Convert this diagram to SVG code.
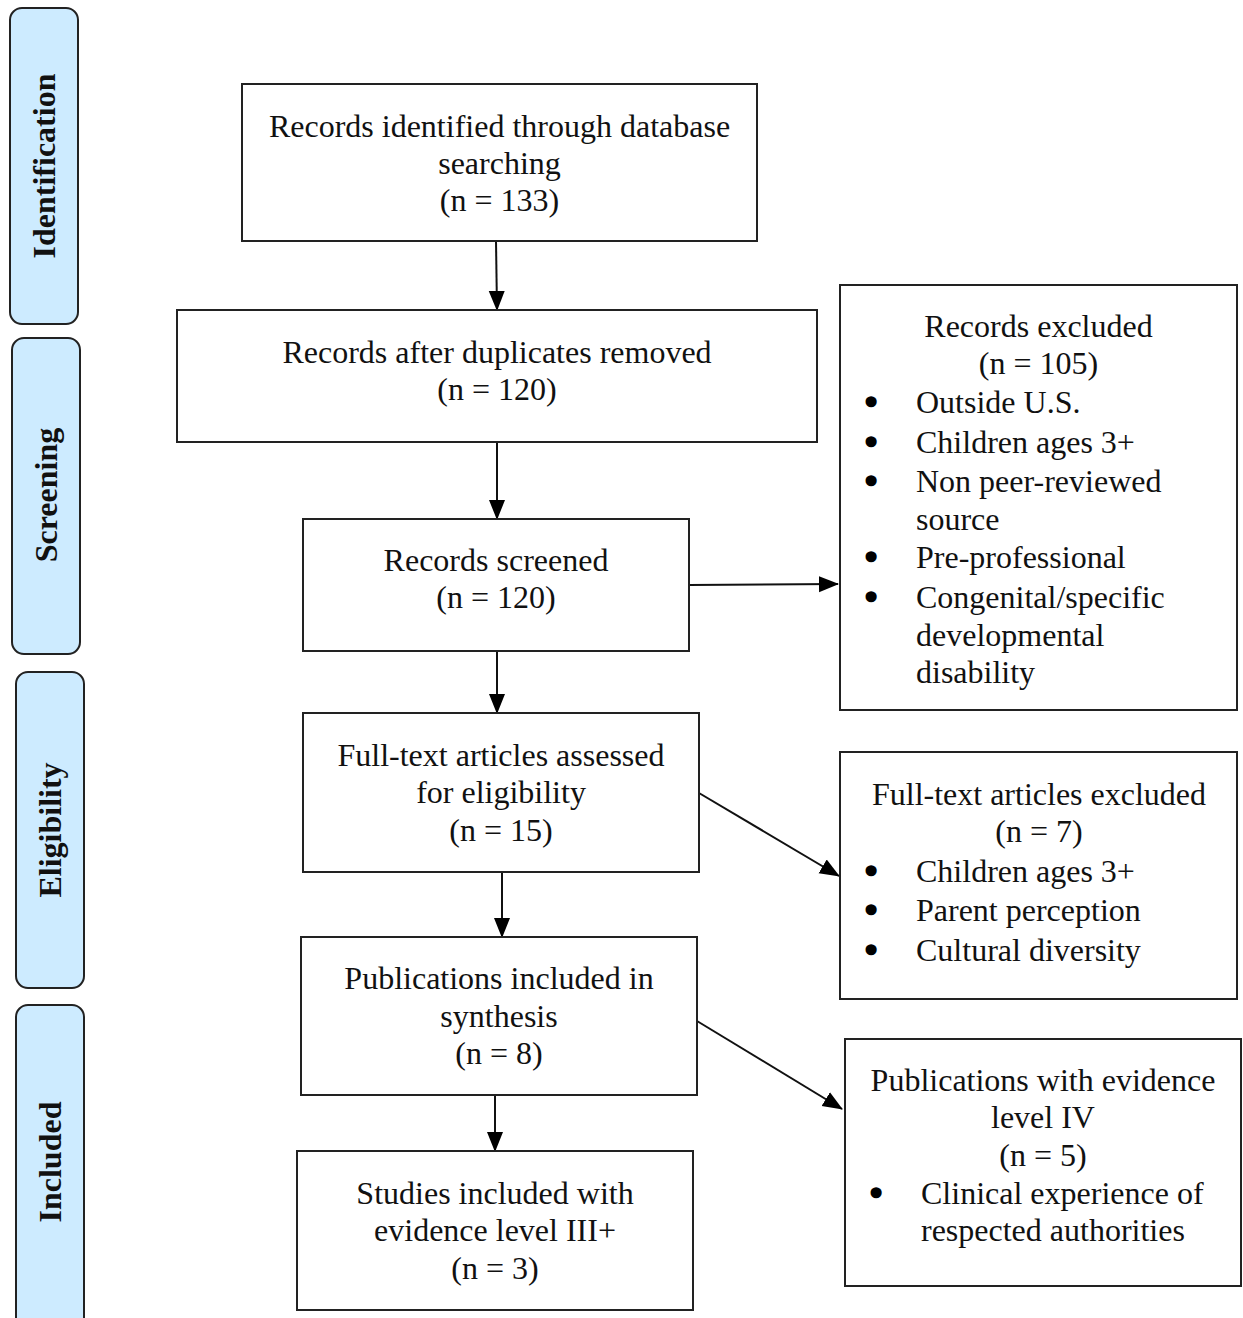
<svg xmlns="http://www.w3.org/2000/svg" width="1243" height="1318" viewBox="0 0 1243 1318">
<style>
.box{fill:#fff;stroke:#222;stroke-width:2}
.side{fill:#cdebff;stroke:#222;stroke-width:2}
.t{font-family:"Liberation Serif","Times New Roman",serif;font-size:32px;fill:#111}
.c{text-anchor:middle}
.b{font-family:"Liberation Serif","Times New Roman",serif;font-size:32px;fill:#000;stroke:#000;stroke-width:3.5;stroke-linejoin:round;text-anchor:middle}
.sl{font-family:"Liberation Serif","Times New Roman",serif;font-size:32px;font-weight:bold;fill:#111;text-anchor:middle}
.conn{stroke:#111;stroke-width:2;fill:none;marker-end:url(#ah)}
</style>
<defs>
<marker id="ah" markerUnits="userSpaceOnUse" markerWidth="20" markerHeight="18" viewBox="0 0 20 18" refX="19" refY="9" orient="auto">
<path d="M0,1 L20,9 L0,17 Z" fill="#000"/>
</marker>
</defs>
<rect width="1243" height="1318" fill="#fff"/>

<g id="side-identification">
<rect class="side" x="10" y="8" width="68" height="316" rx="12"/>
<text class="sl" transform="translate(44,166) rotate(-90)" x="0" y="11">Identification</text>
</g>
<g id="side-screening">
<rect class="side" x="12" y="338" width="68" height="316" rx="12"/>
<text class="sl" transform="translate(46,495) rotate(-90)" x="0" y="11">Screening</text>
</g>
<g id="side-eligibility">
<rect class="side" x="16" y="672" width="68" height="316" rx="12"/>
<text class="sl" transform="translate(50,830) rotate(-90)" x="0" y="11">Eligibility</text>
</g>
<g id="side-included">
<rect class="side" x="16" y="1005" width="68" height="330" rx="12"/>
<text class="sl" transform="translate(50,1162) rotate(-90)" x="0" y="11">Included</text>
</g>

<g id="connectors">
<line class="conn" x1="496" y1="241" x2="497" y2="310"/>
<line class="conn" x1="497" y1="442" x2="497" y2="519"/>
<line class="conn" x1="497" y1="651" x2="497" y2="713"/>
<line class="conn" x1="502" y1="872" x2="502" y2="937"/>
<line class="conn" x1="495" y1="1095" x2="495" y2="1151"/>
<line class="conn" x1="689" y1="585" x2="838" y2="584"/>
<line class="conn" x1="699" y1="793" x2="839" y2="876"/>
<line class="conn" x1="697" y1="1021" x2="842" y2="1109"/>
</g>

<g id="records-identified">
<rect class="box" x="242" y="84" width="515" height="157"/>
<text class="t c" x="499.5" y="137">Records identified through database</text>
<text class="t c" x="499.5" y="174">searching</text>
<text class="t c" x="499.5" y="211">(n = 133)</text>
</g>
<g id="records-after-duplicates">
<rect class="box" x="177" y="310" width="640" height="132"/>
<text class="t c" x="497" y="363">Records after duplicates removed</text>
<text class="t c" x="497" y="400">(n = 120)</text>
</g>
<g id="records-screened">
<rect class="box" x="303" y="519" width="386" height="132"/>
<text class="t c" x="496" y="571">Records screened</text>
<text class="t c" x="496" y="608">(n = 120)</text>
</g>
<g id="full-text-assessed">
<rect class="box" x="303" y="713" width="396" height="159"/>
<text class="t c" x="501" y="766">Full-text articles assessed</text>
<text class="t c" x="501" y="803">for eligibility</text>
<text class="t c" x="501" y="841">(n = 15)</text>
</g>
<g id="publications-included">
<rect class="box" x="301" y="937" width="396" height="158"/>
<text class="t c" x="499" y="989">Publications included in</text>
<text class="t c" x="499" y="1027">synthesis</text>
<text class="t c" x="499" y="1064">(n = 8)</text>
</g>
<g id="studies-included">
<rect class="box" x="297" y="1151" width="396" height="159"/>
<text class="t c" x="495" y="1204">Studies included with</text>
<text class="t c" x="495" y="1241">evidence level III+</text>
<text class="t c" x="495" y="1279">(n = 3)</text>
</g>

<g id="records-excluded">
<rect class="box" x="840" y="285" width="397" height="425"/>
<text class="t c" x="1038.5" y="337">Records excluded</text>
<text class="t c" x="1038.5" y="374">(n = 105)</text>
<text class="b" x="871" y="413">•</text><text class="t" x="916" y="413">Outside U.S.</text>
<text class="b" x="871" y="453">•</text><text class="t" x="916" y="453">Children ages 3+</text>
<text class="b" x="871" y="492">•</text><text class="t" x="916" y="492">Non peer-reviewed</text>
<text class="t" x="916" y="530">source</text>
<text class="b" x="871" y="568">•</text><text class="t" x="916" y="568">Pre-professional</text>
<text class="b" x="871" y="608">•</text><text class="t" x="916" y="608">Congenital/specific</text>
<text class="t" x="916" y="646">developmental</text>
<text class="t" x="916" y="683">disability</text>
</g>
<g id="full-text-excluded">
<rect class="box" x="840" y="752" width="397" height="247"/>
<text class="t c" x="1039" y="805">Full-text articles excluded</text>
<text class="t c" x="1039" y="842">(n = 7)</text>
<text class="b" x="871" y="882">•</text><text class="t" x="916" y="882">Children ages 3+</text>
<text class="b" x="871" y="921">•</text><text class="t" x="916" y="921">Parent perception</text>
<text class="b" x="871" y="961">•</text><text class="t" x="916" y="961">Cultural diversity</text>
</g>
<g id="publications-evidence-iv">
<rect class="box" x="845" y="1039" width="396" height="247"/>
<text class="t c" x="1043" y="1091">Publications with evidence</text>
<text class="t c" x="1043" y="1128">level IV</text>
<text class="t c" x="1043" y="1166">(n = 5)</text>
<text class="b" x="876" y="1204">•</text><text class="t" x="921" y="1204">Clinical experience of</text>
<text class="t" x="921" y="1241">respected authorities</text>
</g>
</svg>
